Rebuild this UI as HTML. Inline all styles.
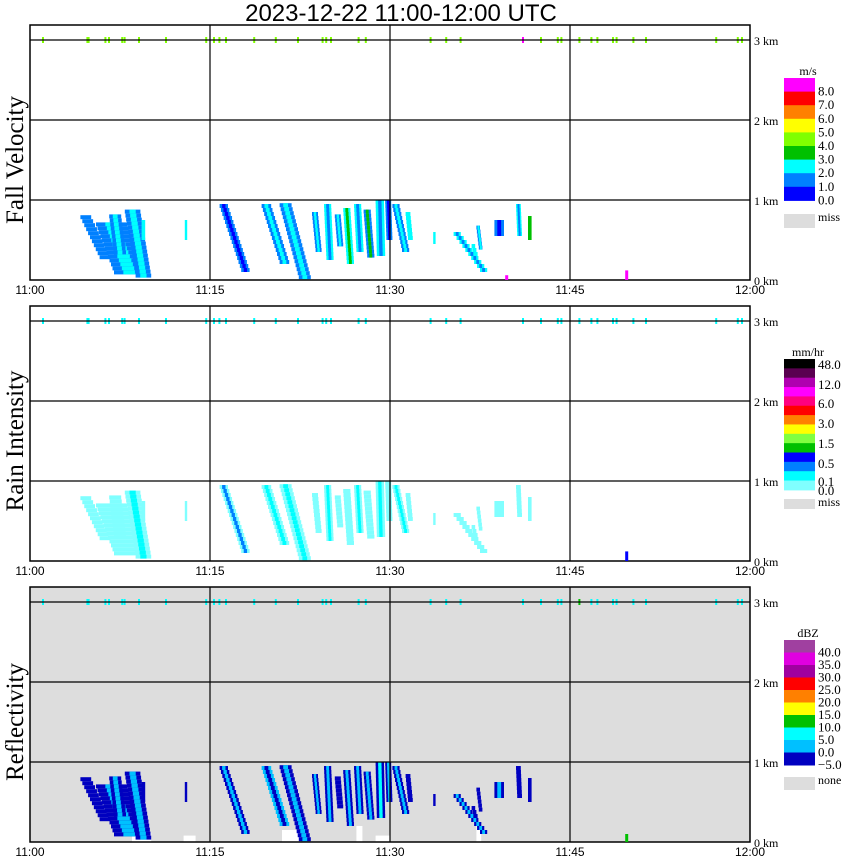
<!DOCTYPE html>
<html><head><meta charset="utf-8"><style>
body{margin:0;background:#fff;width:850px;height:868px;overflow:hidden}
svg{display:block}
text{fill:#000}
.t{font-family:"Liberation Sans",sans-serif;font-size:12px}
.s{font-family:"Liberation Serif",serif;font-size:12px}
.l{font-family:"Liberation Serif",serif;font-size:13px}
</style></head><body>
<svg id="chart" width="850" height="868" viewBox="0 0 850 868" xmlns="http://www.w3.org/2000/svg">
<text x="401" y="21" text-anchor="middle" style="font-family:'Liberation Sans',sans-serif;font-size:24px">2023-12-22  11:00-12:00 UTC</text>
</svg>
<script>
// ---- data ----
const timeTicks = ["11:00","11:15","11:30","11:45","12:00"];
const kmTicks = ["0 km","1 km","2 km","3 km"];
const panelTitles = ["Fall Velocity","Rain Intensity","Reflectivity"];
// precipitation streaks (minutes after 11:00, km)
const blobTimeTop = [4.2,5.5,7.9,6.6,9.3,12.9,15.8,19.3,20.8,23.5,24.5,25.4,26.1,27.0,27.8,28.8,29.6,30.2,31.3,33.6,35.3,38.7,40.5,41.5,37.2,36.8];
const blobTimeBot = [5.8,7.0,8.8,7.0,9.3,12.9,17.6,20.8,22.4,23.8,24.7,25.6,26.4,27.2,28.1,28.9,29.7,31.0,31.5,33.6,37.5,38.7,40.6,41.5,37.4,37.0];
const blobKmTop = [0.81,0.72,0.88,0.82,0.75,0.75,0.95,0.95,0.96,0.85,0.95,0.82,0.90,0.95,0.88,1.00,1.00,0.95,0.85,0.60,0.60,0.75,0.95,0.80,0.68,0.45];
const blobKmBot = [0.25,0.05,0.02,0.30,0.50,0.50,0.08,0.20,0.03,0.35,0.25,0.40,0.20,0.35,0.30,0.30,0.50,0.35,0.50,0.45,0.12,0.55,0.55,0.50,0.40,0.30];
const blobWidth = [0.9,2.6,1.3,1.0,0.3,0.2,0.7,0.8,1.0,0.5,0.6,0.5,0.6,0.6,0.6,0.7,0.5,0.6,0.4,0.2,0.6,0.8,0.4,0.3,0.3,0.3];
const velOuter = [1,1,1,1,2,2,1,1,1,1,2,1,2,2,1,2,1,1,2,2,2,1,2,3,1,2];
const velInner = [1,2,2,2,2,2,0,2,2,2,1,2,3,1,3,1,0,2,2,2,1,0,1,3,2,2];
const rainOuter = [0,0,0,0,0,0,0,0,0,0,0,0,0,0,0,0,0,0,0,0,0,0,0,0,0,0];
const rainInner = [0,0,1,0,0,0,2,1,1,0,1,0,0,1,0,1,0,1,0,0,0,0,0,0,0,0];
const reflOuter = [0,0,0,0,0,0,0,1,0,0,0,0,0,0,0,0,0,0,0,0,0,0,0,0,0,0];
const reflInner = [0,1,1,1,0,0,1,0,1,1,1,0,1,1,1,2,1,1,0,0,1,1,0,0,0,0];
// sparse returns near 3 km (minutes)
const topEchoTimes = [1.0,4.7,4.8,6.2,6.5,7.6,7.8,9.0,11.25,14.6,15.25,15.7,16.25,18.6,20.4,22.25,24.3,24.6,25.0,27.3,27.9,33.3,34.6,35.8,41.0,42.5,43.9,44.2,45.7,46.7,47.2,48.5,48.8,50.2,51.25,57.1,58.9,59.25];
const noneTime = [8.5,12.8,21.0,27.2,28.8,37.2,49.6];
const noneWidth = [1.6,1.0,1.6,0.5,1.2,0.4,0.2];
const noneKmTop = [0.12,0.08,0.15,0.2,0.08,0.2,0.0];
// legends
const velColors = ["#0000ff","#0080ff","#00ffff","#00c000","#80ff00","#ffff00","#ff8000","#ff0000","#ff00ff"];
const velLabels = ["8.0","7.0","6.0","5.0","4.0","3.0","2.0","1.0","0.0"];
const rainColors = ["#80ffff","#00ffff","#0080ff","#0000ff","#00c000","#80ff40","#ffff00","#ff8000","#ff0000","#ff0080","#ff00ff","#b000b0","#5a0050","#000000"];
const rainLabels = ["48.0","12.0","6.0","3.0","1.5","0.5","0.1","0.0"];
const reflColors = ["#0000c0","#00c0ff","#00ffff","#00c000","#ffff00","#ff8000","#ff0000","#a000a0","#e000e0","#a040a0"];
const reflLabels = ["40.0","35.0","30.0","25.0","20.0","15.0","10.0","5.0","0.0","\u22125.0"];

const NS="http://www.w3.org/2000/svg";
const svg=document.getElementById('chart');
function mk(tag,attrs,parent){const e=document.createElementNS(NS,tag);for(const k in attrs)e.setAttribute(k,attrs[k]);(parent||svg).appendChild(e);return e;}
const X0=30,X1=750;
function xs(t){return X0+t*(X1-X0)/60;}
const panelBottoms=[280,561,842];
function ys(km,p){return panelBottoms[p]-km*80;}

function drawPanel(p,outer,inner,pal,gray,echoColor){
  const g=mk('g',{});
  
  
  const top=panelBottoms[p]-255;
  const bg=mk('rect',{x:X0,y:top,width:X1-X0,height:255,fill:gray?'#dddddd':'#fff'},g);
  
  
  if(gray){
    for(let i=0;i<noneTime.length;i++){
      const r=mk('rect',{x:xs(noneTime[i]),y:ys(noneKmTop[i],p),width:Math.max(2,noneWidth[i]*12),height:panelBottoms[p]-ys(noneKmTop[i],p),fill:'#fff'},g);
      
      
    }
  }
  for(let i=0;i<blobTimeTop.length;i++){
    const rows=Math.max(1,Math.round((blobKmTop[i]-blobKmBot[i])/0.05));
    for(let k=0;k<rows;k++){
      const f=rows>1?k/(rows-1):0;
      const t=blobTimeTop[i]+(blobTimeBot[i]-blobTimeTop[i])*f;
      const km=blobKmTop[i]-k*0.05;
      const w=Math.max(2,blobWidth[i]*12);
      const r=mk('rect',{x:xs(t),y:ys(km,p),width:w,height:4,fill:pal[outer[i]]},g);
      
      
      if(inner[i]!==outer[i]){
        const r2=mk('rect',{x:xs(t)+w*0.3,y:ys(km,p),width:Math.max(2,w*0.4),height:4,fill:pal[inner[i]]},g);
        
        
      }
    }
  }
  topEchoTimes.forEach((t,i)=>{
    const r=mk('rect',{x:xs(t),y:ys(3,p)-3,width:2,height:6,fill:(i===24&&p===0)?'#ff00ff':(i===28&&p===2?'#00c000':echoColor)},g);
    
    
  });
  for(let k=1;k<=3;k++){const l=mk('line',{x1:X0,x2:X1,y1:ys(k,p),y2:ys(k,p),stroke:'#000','stroke-width':1.2},g);}
  for(let k=1;k<=3;k++){const l=mk('line',{x1:xs(k*15),x2:xs(k*15),y1:top,y2:panelBottoms[p],stroke:'#000','stroke-width':1.2},g);}
  const fr=mk('rect',{x:X0,y:top,width:X1-X0,height:255,fill:'none',stroke:'#000','stroke-width':1.5},g);
  
  
  timeTicks.forEach((s,i)=>{const t=mk('text',{x:xs(i*15),y:panelBottoms[p]+14,'text-anchor':'middle',class:'t'},g);t.textContent=s;});
  kmTicks.forEach((s,i)=>{const t=mk('text',{x:754,y:ys(i,p)+5,class:'s'},g);t.textContent=s;});
  const cy=panelBottoms[p]-120;
  const tt=mk('text',{x:0,y:0,transform:`translate(23,${cy}) rotate(-90)`,'text-anchor':'middle',style:"font-family:'Liberation Serif',serif;font-size:25px"},g);
  tt.textContent=panelTitles[p];
  
  
}
drawPanel(0,velOuter,velInner,velColors,false,'#80ff00');
drawPanel(1,rainOuter,rainInner,rainColors,false,'#00ffff');
drawPanel(2,reflOuter,reflInner,reflColors,true,'#00ffff');
[[39.6,0.06,0,'#ff00ff'],[49.6,0.12,0,'#ff00ff'],[49.6,0.12,1,'#0000ff'],[49.6,0.1,2,'#00c000']].forEach(d=>{
  const r=mk('rect',{x:xs(d[0]),y:ys(d[1],d[2]),width:3,height:d[1]*80,fill:d[3]});
  
  
});

function legend(x,y0,h,colors,labels,unit,unitY,missY,missH,missText,labelYs){
  const g=mk('g',{});
  
  
  const u=mk('text',{x:x+24,y:unitY,'text-anchor':'middle',class:'s'},g);u.textContent=unit;
  
  const n=colors.length;
  for(let i=0;i<n;i++){
    const r=mk('rect',{x:x,y:y0+i*h,width:31,height:h+0.5,fill:colors[n-1-i]},g);
    
    
  }
  labels.forEach((s,i)=>{const t=mk('text',{x:x+34,y:labelYs[i],class:'l'},g);t.textContent=s;});
  const m=mk('rect',{x:x,y:missY,width:31,height:missH,fill:'#dddddd'},g);
  
  const mt=mk('text',{x:x+34,y:missY+7,class:'s'},g);mt.textContent=missText;
  
}
legend(784,78,13.6,velColors,velLabels,'m/s',75,214,14,'miss',velLabels.map((s,i)=>78+13.6*(i+1)+4));
legend(784,359,9.35,rainColors,rainLabels,'mm/hr',356,499,10,'miss',[369,389,408,428,448,468,486,495]);
legend(784,640,12.5,reflColors,reflLabels,'dBZ',637,777,13,'none',reflLabels.map((s,i)=>640+12.5*(i+1)+4));
</script>
</body></html>
